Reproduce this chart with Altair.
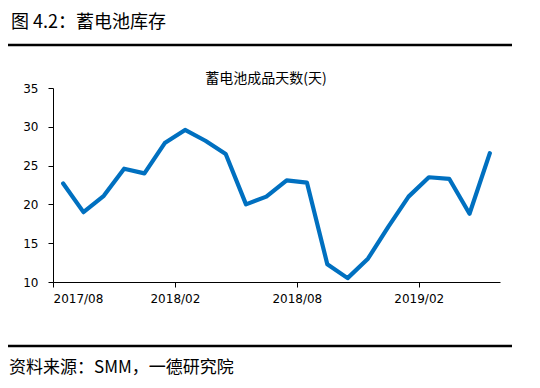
import altair as alt
import pandas as pd

months = ["2017/08", "2017/09", "2017/10", "2017/11", "2017/12", "2018/01",
          "2018/02", "2018/03", "2018/04", "2018/05", "2018/06", "2018/07",
          "2018/08", "2018/09", "2018/10", "2018/11", "2018/12", "2019/01",
          "2019/02", "2019/03", "2019/04", "2019/05"]
days = [22.7, 19.0, 21.1, 24.6, 24.0, 27.9, 29.6, 28.2, 26.5, 20.0, 21.0,
        23.1, 22.8, 12.3, 10.5, 13.0, 17.1, 21.0, 23.5, 23.3, 18.8, 26.6]
tick_labels = ["2017/08", "2018/02", "2018/08", "2019/02"]

fig_title = "图 4.2：蓄电池库存"
chart_title = "蓄电池成品天数(天)"
source_text = "资料来源：SMM，一德研究院"

df = pd.DataFrame({"month": months, "days": days})
df["pos"] = [i + 0.5 for i in range(len(months))]
tick_pos = [months.index(m) for m in tick_labels]
label_expr = " : ".join(
    f"datum.value == {p} ? '{l}'" for p, l in zip(tick_pos, tick_labels)
) + " : ''"

W, H = 447, 194
CJK = "Noto Sans CJK SC"

line = alt.Chart(df).mark_line(color="#0070C0", strokeWidth=4.2, strokeJoin="round", strokeCap="round").encode(
    x=alt.X("pos:Q", scale=alt.Scale(domain=[0, len(months)], nice=False, zero=False),
            axis=alt.Axis(values=tick_pos, labelExpr=label_expr, title=None, grid=False,
                          tickSize=5, labelPadding=6, labelFontSize=12,
                          labelFont="DejaVu Sans", labelColor="#000000",
                          domainColor="#000000", tickColor="#000000")),
    y=alt.Y("days:Q", scale=alt.Scale(domain=[10, 35], nice=False, zero=False),
            axis=alt.Axis(values=[10, 15, 20, 25, 30, 35], title=None, grid=False,
                          tickSize=5, labelPadding=10, labelFontSize=12,
                          labelFont="DejaVu Sans", labelColor="#000000",
                          domainColor="#000000", tickColor="#000000")),
)

def text_layer(txt, x, y, size, align="left"):
    return alt.Chart(pd.DataFrame({"t": [txt]})).mark_text(
        align=align, baseline="middle", fontSize=size, font=CJK, color="#000000"
    ).encode(text="t:N", x=alt.value(x), y=alt.value(y))

def rule_layer(y):
    return alt.Chart(pd.DataFrame({"a": [0]})).mark_rule(
        color="#000000", strokeWidth=2.5
    ).encode(x=alt.value(-45), x2=alt.value(459), y=alt.value(y))

chart = alt.layer(
    line,
    text_layer(fig_title, -42, -65, 18),
    rule_layer(-43),
    text_layer(chart_title, 213, -9, 14, align="center"),
    rule_layer(258),
    text_layer(source_text, -44, 280, 17),
).properties(
    width=W, height=H,
    autosize=alt.AutoSizeParams(type="none"),
    padding={"left": 45, "top": 80, "right": 32, "bottom": 96},
).configure_view(stroke=None)

chart.save("out.html", embed_options={"renderer": "svg", "actions": False})
